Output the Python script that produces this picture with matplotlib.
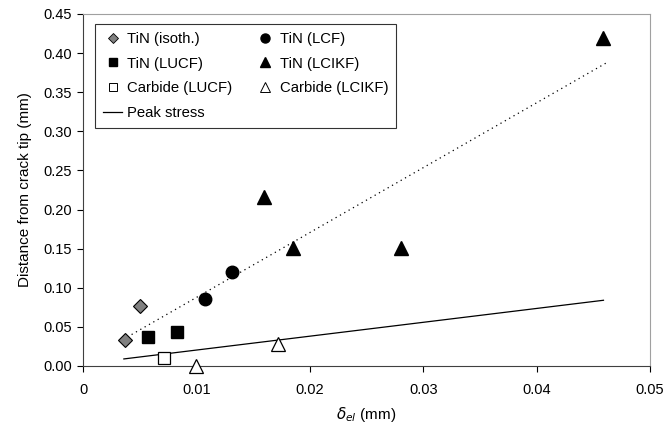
import matplotlib.pyplot as plt
from matplotlib.lines import Line2D
from matplotlib.ticker import FuncFormatter

plt.rcParams['font.family'] = ['Liberation Sans', 'DejaVu Sans']

# Datos (delta_el en mm, distancia en mm)
isoth_x = [0.0037, 0.0050]
isoth_y = [0.033, 0.077]
lcf_x = [0.0108, 0.0131]
lcf_y = [0.086, 0.120]
lucf_x = [0.0057, 0.0083]
lucf_y = [0.037, 0.043]
lcikf_x = [0.0160, 0.0185, 0.0280, 0.0459]
lcikf_y = [0.216, 0.151, 0.151, 0.419]
carb_lucf_x = [0.0071]
carb_lucf_y = [0.010]
carb_lcikf_x = [0.0100, 0.0172]
carb_lcikf_y = [0.000, 0.028]

# Linea de tendencia (punteada) y tension pico
trend_x = [0.0039, 0.0461]
trend_y = [0.037, 0.387]
peak_x = [0.0036, 0.0459]
peak_y = [0.009, 0.084]

fig = plt.figure(figsize=(6.68, 4.36), dpi=100)
ax = fig.add_axes([0.1243, 0.1606, 0.973 - 0.1243, 0.968 - 0.1606])

ax.plot(trend_x, trend_y, color='black', linestyle=(0, (1, 3)), linewidth=0.9)
ax.plot(peak_x, peak_y, color='black', linewidth=0.9)

ax.plot(isoth_x, isoth_y, 'D', color='#808080', mec='black', mew=0.8, ms=7, linestyle='none')
ax.plot(lcf_x, lcf_y, 'o', color='black', ms=9, linestyle='none')
ax.plot(lucf_x, lucf_y, 's', color='black', ms=8, linestyle='none')
ax.plot(lcikf_x, lcikf_y, '^', color='black', ms=9.5, linestyle='none')
ax.plot(carb_lucf_x, carb_lucf_y, 's', mfc='white', mec='black', mew=0.9, ms=8, linestyle='none')
ax.plot(carb_lcikf_x, carb_lcikf_y, '^', mfc='white', mec='black', mew=0.9, ms=9.5,
        linestyle='none', clip_on=False, zorder=5)

ax.set_xlim(0, 0.05)
ax.set_ylim(0, 0.45)
ax.set_xticks([0, 0.01, 0.02, 0.03, 0.04, 0.05])
ax.set_yticks([i * 0.05 for i in range(10)])
ax.xaxis.set_major_formatter(FuncFormatter(lambda v, p: '0' if v == 0 else '%g' % round(v, 3)))
ax.yaxis.set_major_formatter(FuncFormatter(lambda v, p: '%.2f' % v))
ax.tick_params(direction='out', length=4, width=0.8, labelsize=10.5, pad=4)
ax.tick_params(axis='x', pad=8)

for s in ['top', 'right']:
    ax.spines[s].set_color('#a0a0a0')
for s in ['left', 'bottom']:
    ax.spines[s].set_color('#404040')

ax.set_xlabel(r'$\delta_{el}$ (mm)', fontsize=11, labelpad=6)
ax.set_ylabel('Distance from crack tip (mm)', fontsize=11, labelpad=8)

h = [
    Line2D([], [], marker='D', color='#808080', mec='black', mew=0.6, ms=5, ls='none'),
    Line2D([], [], marker='s', color='black', ms=6, ls='none'),
    Line2D([], [], marker='s', mfc='white', mec='black', mew=0.7, ms=6, ls='none'),
    Line2D([], [], color='black', lw=0.9),
    Line2D([], [], marker='o', color='black', ms=6.5, ls='none'),
    Line2D([], [], marker='^', color='black', ms=6.5, ls='none'),
    Line2D([], [], marker='^', mfc='white', mec='black', mew=0.7, ms=6.5, ls='none'),
]
labels = ['TiN (isoth.)', 'TiN (LUCF)', 'Carbide (LUCF)', 'Peak stress',
          'TiN (LCF)', 'TiN (LCIKF)', 'Carbide (LCIKF)']
leg = ax.legend(h, labels, ncol=2, loc='upper left', bbox_to_anchor=(0.021, 0.972),
                borderaxespad=0, fontsize=10.7, frameon=True, fancybox=False,
                edgecolor='black', handlelength=1.3, handletextpad=0.3,
                columnspacing=1.6, labelspacing=0.72, borderpad=0.55)
leg.get_frame().set_linewidth(0.8)

fig.savefig('out.png', dpi=100)
